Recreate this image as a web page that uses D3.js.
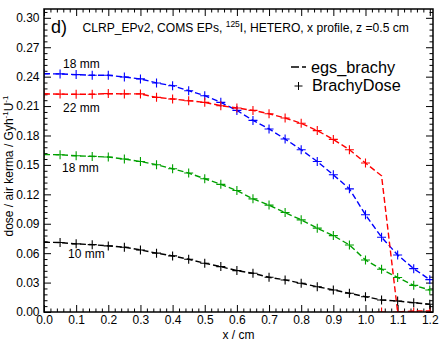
<!DOCTYPE html>
<html><head><meta charset="utf-8">
<script src="https://cdn.jsdelivr.net/npm/d3@7"></script>
<style>
html,body{margin:0;padding:0;background:#fff;}
svg{display:block;font-family:"Liberation Sans",Arial,Helvetica,sans-serif;}
</style></head>
<body>
<svg id="chart" width="446" height="345"></svg>
<script>
// ---------- data ----------
const xPos = [0.00,0.05,0.10,0.15,0.20,0.25,0.30,0.35,0.40,0.45,0.50,0.55,0.60,0.65,0.70,0.75,0.80,0.85,0.90,0.95,1.00,1.05,1.10,1.15,1.20];

// egs_brachy (dashed lines)
const egsBlue18  = [0.2430,0.2428,0.2421,0.2414,0.2414,0.2397,0.2377,0.2336,0.2308,0.2257,0.2206,0.2138,0.2056,0.1954,0.1867,0.1764,0.1655,0.1535,0.1399,0.1256,0.0991,0.0763,0.0582,0.0442,0.0330];
const egsRed22   = [0.2224,0.2222,0.2220,0.2220,0.2227,0.2224,0.2224,0.2189,0.2172,0.2155,0.2138,0.2104,0.2081,0.2056,0.2022,0.1978,0.1925,0.1850,0.1760,0.1655,0.1519,0.1389,0.0000,0.0010,0.0010];
const egsGreen18 = [0.1606,0.1604,0.1593,0.1587,0.1580,0.1560,0.1535,0.1502,0.1461,0.1417,0.1359,0.1302,0.1239,0.1154,0.1090,0.1014,0.0940,0.0855,0.0779,0.0684,0.0531,0.0436,0.0352,0.0272,0.0225];
const egsBlack10 = [0.0712,0.0708,0.0695,0.0687,0.0674,0.0661,0.0633,0.0600,0.0572,0.0538,0.0497,0.0463,0.0422,0.0395,0.0354,0.0327,0.0293,0.0258,0.0225,0.0191,0.0156,0.0123,0.0112,0.0095,0.0079];

// BrachyDose (plus markers)
const bdBlue18  = [0.2430,0.2428,0.2421,0.2414,0.2414,0.2397,0.2377,0.2336,0.2308,0.2257,0.2206,0.2138,0.2056,0.1954,0.1867,0.1764,0.1655,0.1535,0.1399,0.1256,0.0991,0.0763,0.0582,0.0442,0.0330];
const bdRed22   = [0.2224,0.2222,0.2220,0.2220,0.2227,0.2224,0.2224,0.2189,0.2172,0.2155,0.2138,0.2104,0.2081,0.2056,0.2022,0.1978,0.1925,0.1850,0.1760,0.1655,0.1519,0.0000,0.0000,0.0000,0.0000];
const bdGreen18 = [0.1606,0.1604,0.1593,0.1587,0.1580,0.1560,0.1535,0.1502,0.1461,0.1417,0.1359,0.1302,0.1239,0.1154,0.1090,0.1014,0.0940,0.0855,0.0779,0.0684,0.0531,0.0436,0.0352,0.0272,0.0225];
const bdBlack10 = [0.0712,0.0708,0.0695,0.0687,0.0674,0.0661,0.0633,0.0600,0.0572,0.0538,0.0497,0.0463,0.0422,0.0395,0.0354,0.0327,0.0293,0.0258,0.0225,0.0191,0.0156,0.0123,0.0112,0.0095,0.0079];

const seriesNames  = ["18 mm","22 mm","18 mm","10 mm"];
const seriesColors = ["#0000ff","#ff0000","#00a000","#000000"];
const egsSeries = [egsBlue18, egsRed22, egsGreen18, egsBlack10];
const bdSeries  = [bdBlue18, bdRed22, bdGreen18, bdBlack10];

const xTicks = [0.0,0.1,0.2,0.3,0.4,0.5,0.6,0.7,0.8,0.9,1.0,1.1,1.2];
const yTicks = [0.00,0.03,0.06,0.09,0.12,0.15,0.18,0.21,0.24,0.27,0.30];
const legendLabels = ["egs_brachy","BrachyDose"];
const xLabel = "x / cm";

// ---------- layout ----------
const L = 44, R = 433, T = 9, B = 312;
const x = d3.scaleLinear().domain([0, 1.21]).range([L, R]);
const y = d3.scaleLinear().domain([0, 0.309]).range([B, T]);
const svg = d3.select("#chart");

svg.append("defs").append("clipPath").attr("id","clip")
  .append("rect").attr("x",L).attr("y",T).attr("width",R-L).attr("height",B-T);

const xMinor = d3.range(0, 1.2001, 0.02).filter(v => Math.abs(v*10 - Math.round(v*10)) > 1e-6);
const yMinor = d3.range(0, 0.3081, 0.006).filter(v => Math.abs(v/0.03 - Math.round(v/0.03)) > 1e-6);

function styleAxis(g){ g.select(".domain").remove(); g.selectAll("line").attr("stroke","#000").attr("stroke-width",1); g.selectAll("text").attr("font-size","12px").attr("fill","#000").attr("font-family","Liberation Sans, Arial, sans-serif"); }

// bottom
svg.append("g").attr("transform",`translate(0,${B})`)
  .call(d3.axisBottom(x).tickValues(xTicks).tickFormat(d3.format(".1f")).tickSize(-7).tickPadding(3.5)).call(styleAxis);
svg.append("g").attr("transform",`translate(0,${B})`)
  .call(d3.axisBottom(x).tickValues(xMinor).tickFormat("").tickSize(-3.5)).call(styleAxis);
// top
svg.append("g").attr("transform",`translate(0,${T})`)
  .call(d3.axisTop(x).tickValues(xTicks).tickFormat("").tickSize(-7)).call(styleAxis);
svg.append("g").attr("transform",`translate(0,${T})`)
  .call(d3.axisTop(x).tickValues(xMinor).tickFormat("").tickSize(-3.5)).call(styleAxis);
// left
svg.append("g").attr("transform",`translate(${L},0)`)
  .call(d3.axisLeft(y).tickValues(yTicks).tickFormat(d3.format(".2f")).tickSize(-7).tickPadding(4.5)).call(styleAxis);
svg.append("g").attr("transform",`translate(${L},0)`)
  .call(d3.axisLeft(y).tickValues(yMinor).tickFormat("").tickSize(-3.5)).call(styleAxis);
// right
svg.append("g").attr("transform",`translate(${R},0)`)
  .call(d3.axisRight(y).tickValues(yTicks).tickFormat("").tickSize(-7)).call(styleAxis);
svg.append("g").attr("transform",`translate(${R},0)`)
  .call(d3.axisRight(y).tickValues(yMinor).tickFormat("").tickSize(-3.5)).call(styleAxis);

// curves
const plot = svg.append("g").attr("clip-path","url(#clip)");
const line = d3.line().x((d,i)=>x(xPos[i])).y(d=>y(d));
egsSeries.forEach((s,k)=>{
  plot.append("path").attr("d", line(s)).attr("fill","none")
    .attr("stroke", seriesColors[k]).attr("stroke-width",1.4).attr("stroke-dasharray","6,3");
});
const plusPath = (cx,cy,r) => `M${cx-r},${cy}H${cx+r}M${cx},${cy-r}V${cy+r}`;
bdSeries.forEach((s,k)=>{
  plot.append("g").selectAll("path").data(s).join("path")
    .attr("d",(d,i)=>plusPath(x(xPos[i]), y(d), 4.5))
    .attr("stroke", seriesColors[k]).attr("stroke-width",1.1).attr("fill","none");
});

// frame
svg.append("rect").attr("x",L).attr("y",T).attr("width",R-L).attr("height",B-T)
  .attr("fill","none").attr("stroke","#000").attr("stroke-width",1.5);

// curve labels
const labelPos = [[63,68],[63,112],[62,172],[68,258]];
seriesNames.forEach((n,k)=>{
  svg.append("text").attr("x",labelPos[k][0]).attr("y",labelPos[k][1]).attr("font-size","12px").text(n);
});

// title
svg.append("text").attr("x",51).attr("y",33).attr("font-size","18px").text("d)");
const title = svg.append("text").attr("x",82.5).attr("y",32).attr("font-size","12.1px");
title.append("tspan").text("CLRP_EPv2, COMS EPs, ");
title.append("tspan").attr("font-size","8.5px").attr("dy",-5).text("125");
title.append("tspan").attr("dy",5).text("I, HETERO, x profile, z =0.5 cm");

// legend
svg.append("line").attr("x1",291).attr("x2",306).attr("y1",67).attr("y2",67)
  .attr("stroke","#000").attr("stroke-width",1.3).attr("stroke-dasharray","8,3");
svg.append("text").attr("x",311).attr("y",73).attr("font-size","16.3px").text(legendLabels[0]);
svg.append("path").attr("d",plusPath(298.5,86,4)).attr("stroke","#000").attr("stroke-width",1);
svg.append("text").attr("x",312).attr("y",91).attr("font-size","16.3px").text(legendLabels[1]);

// axis labels
svg.append("text").attr("x",(L+R)/2).attr("y",339).attr("text-anchor","middle").attr("font-size","12px").text(xLabel);
const yl = svg.append("text").attr("transform","translate(13,166) rotate(-90)").attr("text-anchor","middle").attr("font-size","12px");
yl.append("tspan").text("dose / air kerma / Gyh");
yl.append("tspan").attr("font-size","8px").attr("dy",-5).text("-1");
yl.append("tspan").attr("dy",5).text("U");
yl.append("tspan").attr("font-size","8px").attr("dy",-5).text("-1");
</script>
</body></html>
